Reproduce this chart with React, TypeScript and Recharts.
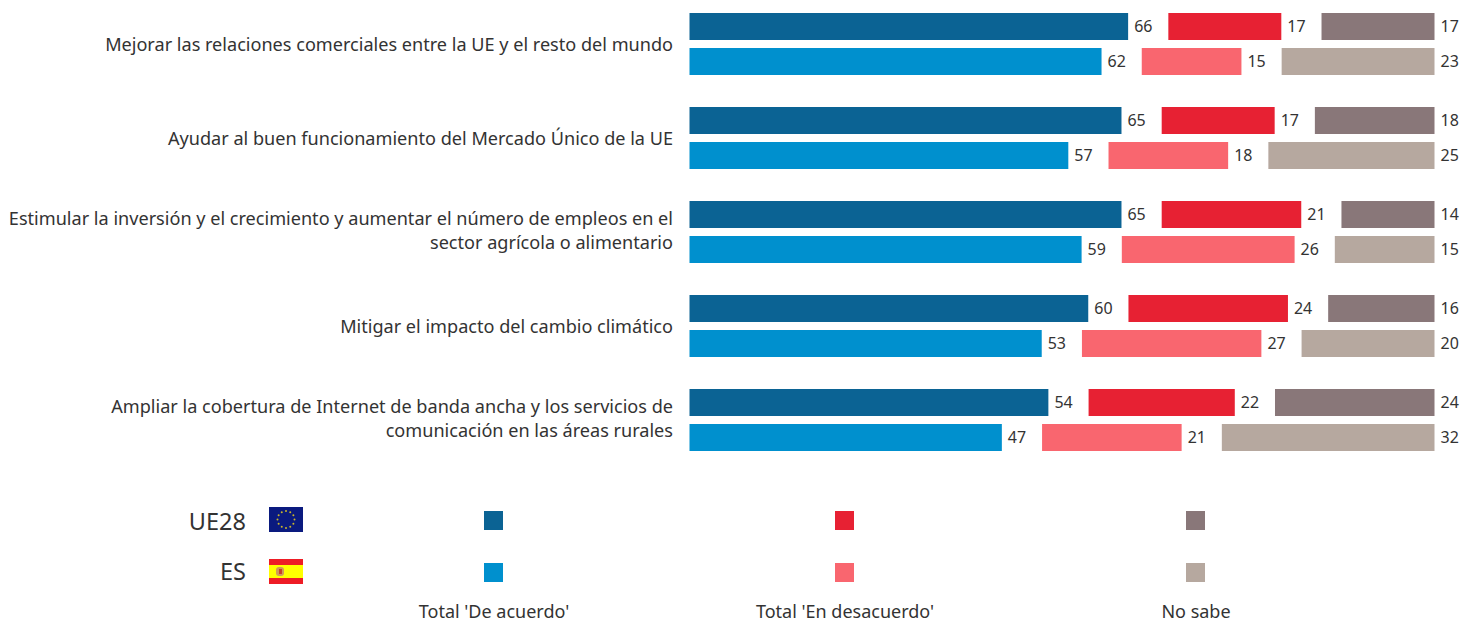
import { BarChart, Bar, XAxis, YAxis, LabelList } from 'recharts'

const FONT = "'Noto Sans', sans-serif"
const TEXT_COLOR = '#333333'

const UE_AGREE_COLOR = '#0B6394'
const ES_AGREE_COLOR = '#0090CE'
const UE_DISAGREE_COLOR = '#E72133'
const ES_DISAGREE_COLOR = '#F9666F'
const UE_DK_COLOR = '#897779'
const ES_DK_COLOR = '#B6A89F'

const categories = [
  'Mejorar las relaciones comerciales entre la UE y el resto del mundo',
  'Ayudar al buen funcionamiento del Mercado Único de la UE',
  'Estimular la inversión y el crecimiento y aumentar el número de empleos en el\nsector agrícola o alimentario',
  'Mitigar el impacto del cambio climático',
  'Ampliar la cobertura de Internet de banda ancha y los servicios de\ncomunicación en las áreas rurales',
]
const ueAgree = [66, 65, 65, 60, 54]
const ueDisagree = [17, 17, 21, 24, 22]
const ueDontKnow = [17, 18, 14, 16, 24]
const esAgree = [62, 57, 59, 53, 47]
const esDisagree = [15, 18, 26, 27, 21]
const esDontKnow = [23, 25, 15, 20, 32]
// empty stretch between the three blocks of a row
const spacer = 6.05

const legendLabels = ["Total 'De acuerdo'", "Total 'En desacuerdo'", 'No sabe']
const legendX = [494, 845, 1196]

const data = categories.map((name, i) => ({
  name,
  ueAgree: ueAgree[i],
  ueGapA: spacer,
  ueDisagree: ueDisagree[i],
  ueGapB: spacer,
  ueDontKnow: ueDontKnow[i],
  esAgree: esAgree[i],
  esGapA: spacer,
  esDisagree: esDisagree[i],
  esGapB: spacer,
  esDontKnow: esDontKnow[i],
}))

function CategoryTick({ x, y, payload }: any) {
  const lines = String(payload.value).split('\n')
  const top = y - ((lines.length - 1) * 24) / 2
  const dy = lines.length > 1 ? 5 : 7
  return (
    <text x={x} y={top} textAnchor="end" fontFamily={FONT} fontSize={18.1} fill={TEXT_COLOR}>
      {lines.map((line: string, i: number) => (
        <tspan key={i} x={x} y={top + i * 24} dy={dy}>{line}</tspan>
      ))}
    </text>
  )
}

function ValueBar({ dataKey, stackId, color }: { dataKey: string; stackId: string; color: string }) {
  return (
    <Bar dataKey={dataKey} stackId={stackId} fill={color} isAnimationActive={false}>
      <LabelList
        dataKey={dataKey}
        position="right"
        offset={6}
        fill={TEXT_COLOR}
        fontFamily={FONT}
        fontSize={16}
      />
    </Bar>
  )
}

function EuFlag() {
  const stars = Array.from({ length: 12 }, (_, i) => (i * Math.PI) / 6)
  return (
    <svg width={34} height={25} style={{ position: 'absolute', left: 269, top: 507 }}>
      <rect width={34} height={25} fill="#0A1A7F" />
      {stars.map((a, i) => (
        <circle key={i} cx={17 + 8.5 * Math.cos(a)} cy={12.5 + 8.5 * Math.sin(a)} r={1} fill="#C9B62A" />
      ))}
    </svg>
  )
}

function EsFlag() {
  return (
    <svg width={34} height={25} style={{ position: 'absolute', left: 269, top: 559 }}>
      <rect width={34} height={25} fill="#EE1C25" />
      <rect y={6} width={34} height={13} fill="#FFFF00" />
      <rect x={7} y={8} width={8} height={9} rx={3} fill="#D09A5A" />
      <rect x={10} y={10} width={3} height={5} fill="#C8402A" />
    </svg>
  )
}

function Swatch({ x, y, color }: { x: number; y: number; color: string }) {
  return <div style={{ position: 'absolute', left: x - 10, top: y, width: 19, height: 19, background: color }} />
}

export default function App() {
  return (
    <div style={{ position: 'absolute', left: 0, top: 0, width: 1477, height: 623, background: '#fff', overflow: 'hidden', fontFamily: FONT, color: TEXT_COLOR }}>
      <div style={{ position: 'absolute', left: 0, top: -3 }}>
        <BarChart
          width={1477}
          height={470}
          data={data}
          layout="vertical"
          margin={{ top: 0, right: 42.5, bottom: 0, left: 0 }}
          barSize={27}
          barGap={8}
        >
          <XAxis type="number" domain={[0, 112.1]} hide />
          <YAxis
            type="category"
            dataKey="name"
            width={689.5}
            axisLine={false}
            tickLine={false}
            tickMargin={10.5}
            interval={0}
            tick={<CategoryTick />}
          />
          {ValueBar({ dataKey: 'ueAgree', stackId: 'ue', color: UE_AGREE_COLOR })}
          <Bar dataKey="ueGapA" stackId="ue" fill="none" isAnimationActive={false} />
          {ValueBar({ dataKey: 'ueDisagree', stackId: 'ue', color: UE_DISAGREE_COLOR })}
          <Bar dataKey="ueGapB" stackId="ue" fill="none" isAnimationActive={false} />
          {ValueBar({ dataKey: 'ueDontKnow', stackId: 'ue', color: UE_DK_COLOR })}
          {ValueBar({ dataKey: 'esAgree', stackId: 'es', color: ES_AGREE_COLOR })}
          <Bar dataKey="esGapA" stackId="es" fill="none" isAnimationActive={false} />
          {ValueBar({ dataKey: 'esDisagree', stackId: 'es', color: ES_DISAGREE_COLOR })}
          <Bar dataKey="esGapB" stackId="es" fill="none" isAnimationActive={false} />
          {ValueBar({ dataKey: 'esDontKnow', stackId: 'es', color: ES_DK_COLOR })}
        </BarChart>
      </div>

      {/* Legend */}
      <div style={{ position: 'absolute', right: 1477 - 246, top: 505, fontSize: 23.5, lineHeight: '33px' }}>UE28</div>
      <div style={{ position: 'absolute', right: 1477 - 246, top: 555, fontSize: 23.5, lineHeight: '33px' }}>ES</div>
      <EuFlag />
      <EsFlag />
      <Swatch x={legendX[0]} y={511} color={UE_AGREE_COLOR} />
      <Swatch x={legendX[0]} y={563} color={ES_AGREE_COLOR} />
      <Swatch x={legendX[1]} y={511} color={UE_DISAGREE_COLOR} />
      <Swatch x={legendX[1]} y={563} color={ES_DISAGREE_COLOR} />
      <Swatch x={legendX[2]} y={511} color={UE_DK_COLOR} />
      <Swatch x={legendX[2]} y={563} color={ES_DK_COLOR} />
      {legendLabels.map((label, i) => (
        <div
          key={label}
          style={{ position: 'absolute', left: legendX[i] - 150, width: 300, top: 599, textAlign: 'center', fontSize: 18, lineHeight: '24px' }}
        >
          {label}
        </div>
      ))}
    </div>
  )
}
